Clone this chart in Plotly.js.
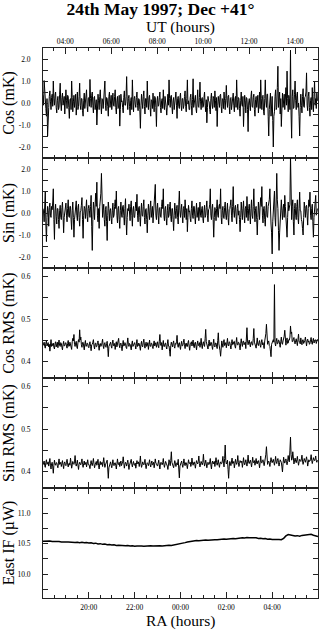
<!DOCTYPE html>
<html><head><meta charset="utf-8">
<script src="https://cdn.plot.ly/plotly-3.0.1.min.js"></script>
<style>html,body{margin:0;padding:0;background:#fff;} #chart{width:321px;height:631px;}</style>
</head><body><div id="chart"></div>
<script>
// ---------------- data ----------------
const RA_START = 18.0;          // RA (hours) of first sample
const NOISE_STEP = 0.025;       // hours between samples of the noisy series
const IF_STEP = 0.1;            // hours between samples of the IF power series
const UT_RANGE = [3.03, 15.0];  // UT hours spanned by the observation

const cosMK = [
0.35,-0.1,1.02,0.3,0.1,-0.25,-0.6,0.2,-1.5,-0.4,-0.2,0.3,0.55,0.05,-0.3,0.25,0.4,-0.15,1.0,0.2,-0.1,0.35,0.5,-0.2,-0.45,0.1,0.3,-0.3,-0.2,0.4,0.9,0.0,-0.35,0.25,0.45,-0.1,0.05,0.3,-0.5,0.15,
0.6,0.1,-0.25,0.35,0.3,-0.2,-0.7,0.15,0.2,-0.3,1.0,0.25,-0.4,0.05,0.35,-0.2,0.1,0.4,-0.55,0.0,0.5,-0.3,-0.15,0.3,0.9,-0.1,-0.3,0.2,0.2,-0.35,-0.6,0.1,0.45,-0.25,0.0,0.3,0.6,-0.15,-0.4,0.2,
0.25,-0.15,1.07,0.2,-0.2,0.35,0.5,-0.1,-0.45,0.25,0.3,-0.3,-0.1,0.15,-1.0,-0.2,0.4,0.1,-0.3,0.3,0.6,-0.05,-0.5,0.2,0.15,-0.25,0.35,0.4,1.0,-0.1,-0.35,0.25,0.2,-0.15,-0.6,0.3,0.5,-0.2,0.05,0.35,
-0.3,0.2,0.45,-0.1,-0.15,0.3,0.6,-0.2,-0.5,0.1,0.3,-0.25,-0.2,0.35,-1.05,-0.3,0.4,0.05,0.1,-0.2,-0.45,0.25,0.55,-0.1,-0.1,0.3,1.2,0.05,-0.3,0.2,0.35,-0.15,-0.55,0.1,0.25,-0.3,1.05,0.15,-0.4,0.2,
0.3,-0.05,-0.2,0.25,0.5,-0.1,-0.35,0.2,0.15,-0.3,-1.15,-0.1,0.4,0.05,-0.25,0.3,0.55,-0.15,-0.5,0.2,0.2,-0.2,1.0,0.1,-0.3,0.25,0.35,-0.2,-0.6,0.15,0.1,-0.25,0.45,0.0,-0.4,0.3,0.25,-0.2,-1.07,0.1,
0.3,-0.15,-0.1,0.25,0.5,-0.2,-0.45,0.1,0.2,-0.25,0.6,0.05,-0.3,0.3,0.15,-0.2,-0.55,0.15,0.4,-0.1,1.05,0.2,-0.2,0.3,0.35,-0.15,-0.5,0.1,0.25,-0.3,0.05,0.35,0.5,-0.1,-0.7,0.2,0.3,-0.15,-0.25,0.25,
0.45,-0.1,-0.35,0.2,0.2,-0.25,-0.1,0.3,0.55,-0.15,-0.4,0.2,1.05,-0.05,0.1,-0.3,-0.3,0.25,0.4,-0.1,-0.55,0.15,1.1,-0.2,0.0,0.3,0.35,-0.25,-0.45,0.1,0.6,-0.15,-0.2,0.25,0.95,0.05,-0.3,0.2,0.25,-0.2,
-0.15,0.25,0.5,-0.1,-0.4,0.15,-0.9,-0.2,0.3,0.1,0.05,-0.3,-0.5,0.2,0.45,-0.05,-0.25,0.3,0.2,-0.2,0.55,0.1,-0.35,0.25,-1.07,-0.1,0.3,0.05,-0.2,0.35,0.4,-0.15,-0.45,0.2,0.15,-0.25,0.5,0.1,-0.3,0.2,
0.8,0.1,-0.2,0.3,0.35,-0.15,-0.5,0.2,0.25,-0.3,0.0,0.35,0.45,-0.1,-0.4,0.2,0.3,-0.2,1.05,0.15,-0.3,0.25,0.2,-0.25,-0.6,0.1,0.5,-0.05,-0.15,0.3,-1.07,-0.2,0.35,0.1,-0.45,0.25,0.2,-0.3,-1.3,0.0,
0.2,-0.1,-0.35,0.3,0.55,-0.15,-0.2,0.25,0.4,-0.3,-0.6,0.15,0.3,-0.2,0.1,0.35,-0.45,0.05,0.5,-0.25,1.05,0.2,-0.3,0.3,0.35,-0.4,-0.55,0.2,1.05,0.1,-0.2,0.4,0.4,-0.6,-1.5,-0.3,0.1,0.45,-0.6,0.2,
0.3,-0.8,-2.0,-0.6,-0.4,0.3,0.6,-0.3,-0.2,0.7,1.67,-0.2,0.3,0.5,-0.5,0.2,-1.07,-0.3,0.45,-0.2,0.1,0.4,-0.3,0.3,0.7,-0.1,1.45,0.2,-0.4,0.35,0.2,-0.3,2.4,-0.5,-1.6,0.3,0.6,-0.25,-0.2,0.4,
1.0,0.1,-0.3,0.35,0.5,-0.2,0.0,-0.6,-1.5,-0.2,0.4,-0.1,-0.45,0.3,0.65,-0.15,-0.2,0.25,0.3,0.5,1.37,-0.1,-0.35,0.3,0.5,-0.2,-0.6,0.1,0.25,-0.3,0.7,0.05,-0.4,0.3,1.0,-0.1,0.2,-0.25,0.45,0.1
];

const sinMK = [
0.2,0.05,-0.4,0.3,1.0,-0.5,-1.3,-0.2,0.3,0.1,-0.6,0.25,0.45,-0.1,-0.2,0.3,0.15,0.5,1.1,-0.3,-1.2,0.1,0.4,-0.15,-0.5,0.2,0.2,-0.3,-0.7,0.1,0.35,-0.2,-0.3,0.25,0.5,-0.1,-0.9,-0.2,0.1,0.3,
0.45,-0.1,-0.4,0.2,0.6,-0.15,-0.2,0.3,0.3,-0.3,-0.75,0.1,0.5,-0.2,-1.1,-0.3,0.2,0.15,0.55,-0.1,-0.35,0.25,0.4,-0.2,-0.6,0.05,0.1,0.35,0.7,-0.3,-1.15,-0.1,0.3,0.2,-0.25,0.1,0.6,-0.15,-0.4,0.2,
0.35,0.1,-0.2,0.3,0.8,-0.6,-1.7,-0.3,0.5,0.2,-0.3,0.4,0.9,0.3,1.4,-0.1,-0.4,0.2,-0.7,0.3,0.6,0.9,1.8,0.4,-0.2,0.1,0.4,-0.3,-0.6,0.15,0.3,-0.4,-1.25,-0.1,0.5,0.2,-0.35,0.1,0.2,-0.25,
-0.5,0.1,0.45,-0.2,-0.1,0.3,0.6,0.2,1.0,-0.1,-0.45,0.2,0.3,-0.3,-0.7,0.1,0.5,-0.05,-0.2,0.3,0.35,-0.1,-0.55,0.2,0.65,-0.3,-1.0,-0.2,0.2,0.1,0.4,-0.15,-0.35,0.3,0.55,-0.1,-0.6,0.15,0.3,-0.2,
-0.2,0.2,0.5,0.1,0.85,-0.1,-0.4,0.25,0.3,-0.2,-0.6,0.1,0.45,-0.1,-0.15,0.3,0.6,-0.2,-0.5,0.15,0.2,-0.3,-0.9,-0.1,0.4,0.05,-0.3,0.25,0.55,-0.2,0.1,0.3,-0.45,0.0,0.35,0.6,1.3,-0.1,-0.3,0.2,
0.45,-0.1,-0.5,0.2,0.25,-0.15,-0.2,0.3,0.6,0.2,1.1,-0.1,-0.35,0.2,0.3,-0.25,-0.55,0.1,0.4,-0.2,-0.1,0.3,0.5,-0.15,-0.4,0.2,0.2,-0.3,-0.8,-0.1,0.45,0.1,-0.25,0.2,0.35,-0.2,-0.5,0.4,1.0,0.1,
-0.2,0.15,0.4,-0.1,-0.45,0.2,0.3,-0.2,0.6,0.1,-0.3,0.2,-0.85,-0.2,0.35,0.05,0.1,-0.25,-0.4,0.2,0.55,-0.1,-0.25,0.3,0.3,-0.15,-0.5,0.1,0.45,-0.2,0.0,0.25,-0.35,0.1,0.5,-0.1,-0.2,0.2,0.3,-0.25,
-0.45,0.1,0.35,-0.2,-0.1,0.25,0.55,-0.1,-0.4,0.15,0.2,0.4,1.1,-0.1,-0.3,0.2,0.4,-0.3,-1.1,-0.2,0.25,0.1,-0.35,0.2,0.6,-0.1,-0.2,0.3,0.4,0.2,1.1,-0.2,-0.5,0.1,0.3,-0.2,-0.25,0.25,0.5,-0.1,
-0.3,0.1,0.45,-0.2,-0.55,0.15,0.2,0.35,0.6,-0.1,-0.4,0.3,1.2,0.1,-0.2,0.25,0.35,-0.15,-0.5,0.2,0.4,-0.1,0.1,-0.3,-0.85,-0.2,0.5,0.1,-0.3,0.2,0.55,-0.1,-0.45,0.2,0.3,-0.2,0.75,0.1,-0.35,0.2,
0.4,-0.1,-0.5,0.2,0.6,-0.1,-0.25,0.3,1.1,0.1,-0.4,0.2,0.3,-0.3,-1.0,-0.2,0.5,0.1,-0.3,0.35,0.7,0.3,1.2,-0.1,-0.45,0.2,0.3,-0.3,-0.6,0.1,0.5,-0.15,-0.2,0.3,0.4,0.6,1.1,-0.2,-0.5,-0.9,
-1.86,-0.4,0.4,0.7,1.0,-0.2,-0.6,0.5,1.8,0.6,0.2,-0.8,-1.7,-0.9,-0.5,0.3,0.6,0.1,-0.3,0.2,0.4,-0.2,0.8,0.3,-0.4,-0.6,-1.1,-0.2,0.5,0.1,0.2,0.4,2.6,-0.1,-0.3,0.3,0.6,-0.4,-1.0,0.2,
0.45,-0.1,-0.3,0.3,0.6,-0.2,-0.5,0.2,0.95,0.1,0.1,-0.3,-0.4,-0.7,-1.0,-0.2,0.5,0.2,-0.2,0.3,0.35,-0.1,-0.55,0.2,0.6,0.3,0.95,-0.1,-0.3,0.2,0.4,-0.4,-1.1,-0.2,0.2,0.4,0.8,-0.1,0.1,0.2
];

const cosRMS = [
0.438,0.443,0.446,0.436,0.432,0.444,0.449,0.437,0.44,0.445,0.435,0.441,0.425,0.447,0.452,0.436,0.437,0.442,0.444,0.434,0.43,0.443,0.447,0.435,0.439,0.446,0.433,0.44,0.451,0.438,0.436,0.445,0.443,0.434,0.428,0.441,0.448,0.437,0.438,0.444,
0.445,0.437,0.432,0.443,0.45,0.436,0.437,0.446,0.442,0.434,0.429,0.447,0.455,0.449,0.464,0.441,0.436,0.444,0.448,0.435,0.431,0.445,0.452,0.446,0.475,0.451,0.458,0.44,0.434,0.445,0.446,0.437,0.428,0.442,0.45,0.436,0.437,0.444,0.443,0.435,
0.433,0.442,0.447,0.436,0.426,0.44,0.441,0.446,0.452,0.437,0.43,0.443,0.444,0.435,0.436,0.445,0.449,0.438,0.427,0.441,0.443,0.436,0.438,0.445,0.453,0.437,0.431,0.442,0.445,0.436,0.434,0.443,0.448,0.432,0.412,0.436,0.44,0.444,0.446,0.437,
0.432,0.444,0.451,0.438,0.437,0.443,0.429,0.441,0.447,0.435,0.44,0.446,0.455,0.439,0.433,0.442,0.444,0.436,0.426,0.44,0.45,0.437,0.438,0.445,0.443,0.434,0.431,0.444,0.456,0.441,0.436,0.443,0.441,0.435,0.428,0.442,0.449,0.436,0.439,0.444,
0.445,0.438,0.43,0.442,0.452,0.436,0.437,0.444,0.442,0.435,0.427,0.441,0.448,0.437,0.435,0.446,0.453,0.439,0.432,0.443,0.446,0.436,0.438,0.445,0.429,0.44,0.451,0.437,0.436,0.444,0.443,0.435,0.431,0.442,0.449,0.437,0.44,0.445,0.434,0.441,
0.447,0.437,0.433,0.448,0.464,0.442,0.438,0.445,0.428,0.44,0.45,0.436,0.436,0.443,0.444,0.435,0.43,0.442,0.452,0.437,0.437,0.425,0.413,0.438,0.446,0.44,0.435,0.444,0.449,0.436,0.432,0.443,0.441,0.447,0.462,0.44,0.434,0.443,0.445,0.436,
0.429,0.441,0.448,0.437,0.438,0.445,0.453,0.44,0.431,0.442,0.444,0.436,0.436,0.445,0.45,0.437,0.427,0.44,0.442,0.447,0.437,0.443,0.451,0.436,0.433,0.444,0.446,0.437,0.428,0.441,0.449,0.438,0.439,0.445,0.434,0.442,0.455,0.439,0.431,0.443,
0.447,0.439,0.436,0.455,0.476,0.447,0.442,0.436,0.43,0.443,0.451,0.437,0.438,0.446,0.445,0.436,0.429,0.442,0.453,0.438,0.435,0.444,0.444,0.437,0.431,0.45,0.468,0.442,0.437,0.426,0.413,0.437,0.449,0.442,0.434,0.446,0.452,0.438,0.44,0.445,
0.433,0.444,0.455,0.439,0.437,0.447,0.446,0.438,0.43,0.443,0.452,0.44,0.441,0.447,0.448,0.437,0.432,0.445,0.457,0.441,0.439,0.446,0.445,0.438,0.428,0.442,0.454,0.443,0.436,0.447,0.449,0.44,0.442,0.446,0.431,0.452,0.48,0.449,0.44,0.447,
0.451,0.441,0.435,0.446,0.447,0.44,0.439,0.455,0.478,0.446,0.443,0.437,0.432,0.447,0.456,0.441,0.438,0.445,0.45,0.439,0.434,0.446,0.452,0.44,0.445,0.438,0.431,0.449,0.458,0.466,0.488,0.45,0.441,0.446,0.449,0.438,0.436,0.425,0.412,0.441,
0.445,0.449,0.452,0.446,0.581,0.444,0.437,0.448,0.455,0.442,0.443,0.451,0.45,0.441,0.434,0.447,0.458,0.444,0.441,0.449,0.453,0.46,0.474,0.446,0.439,0.45,0.456,0.443,0.444,0.452,0.451,0.458,0.484,0.466,0.47,0.447,0.448,0.453,0.457,0.445,
0.442,0.449,0.454,0.445,0.438,0.452,0.465,0.447,0.447,0.442,0.456,0.446,0.44,0.451,0.452,0.443,0.445,0.45,0.458,0.444,0.437,0.449,0.453,0.446,0.449,0.441,0.443,0.452,0.457,0.445,0.441,0.45,0.455,0.444,0.446,0.452,0.451,0.443,0.448,0.453
];

const sinRMS = [
0.415,0.42,0.424,0.413,0.409,0.421,0.427,0.416,0.418,0.422,0.412,0.419,0.43,0.414,0.405,0.418,0.421,0.41,0.395,0.414,0.426,0.417,0.414,0.42,0.42,0.413,0.408,0.419,0.429,0.416,0.417,0.421,0.411,0.418,0.425,0.414,0.406,0.419,0.422,0.415,
0.413,0.421,0.428,0.417,0.41,0.418,0.419,0.414,0.431,0.42,0.407,0.415,0.423,0.418,0.416,0.422,0.437,0.419,0.412,0.418,0.426,0.414,0.404,0.416,0.421,0.417,0.415,0.422,0.429,0.416,0.409,0.418,0.424,0.415,0.418,0.421,0.41,0.419,0.427,0.416,
0.416,0.412,0.406,0.418,0.425,0.416,0.413,0.421,0.43,0.417,0.408,0.415,0.42,0.423,0.414,0.419,0.428,0.413,0.405,0.417,0.423,0.415,0.417,0.421,0.411,0.418,0.432,0.419,0.409,0.415,0.419,0.422,0.426,0.405,0.383,0.408,0.415,0.42,0.422,0.414,
0.408,0.417,0.427,0.415,0.413,0.419,0.42,0.414,0.405,0.418,0.429,0.416,0.416,0.421,0.411,0.419,0.424,0.413,0.418,0.422,0.434,0.417,0.407,0.416,0.421,0.418,0.412,0.42,0.426,0.415,0.404,0.414,0.419,0.422,0.428,0.416,0.41,0.418,0.423,0.415,
0.414,0.419,0.407,0.416,0.425,0.418,0.417,0.422,0.411,0.42,0.436,0.417,0.409,0.415,0.422,0.418,0.415,0.42,0.428,0.414,0.406,0.416,0.42,0.418,0.413,0.419,0.427,0.416,0.41,0.418,0.424,0.415,0.416,0.421,0.408,0.417,0.429,0.419,0.418,0.414,
0.412,0.419,0.426,0.415,0.405,0.417,0.421,0.418,0.415,0.42,0.43,0.416,0.409,0.417,0.423,0.419,0.417,0.412,0.404,0.416,0.427,0.42,0.413,0.425,0.446,0.421,0.418,0.414,0.408,0.417,0.425,0.419,0.411,0.418,0.42,0.415,0.428,0.405,0.384,0.412,
0.416,0.421,0.424,0.415,0.409,0.418,0.429,0.417,0.413,0.42,0.42,0.414,0.406,0.417,0.427,0.419,0.418,0.421,0.411,0.416,0.431,0.419,0.414,0.42,0.422,0.416,0.407,0.418,0.425,0.42,0.417,0.423,0.436,0.418,0.41,0.417,0.423,0.419,0.415,0.421,
0.44,0.421,0.412,0.419,0.426,0.417,0.408,0.418,0.421,0.416,0.416,0.422,0.43,0.415,0.405,0.419,0.424,0.417,0.419,0.423,0.411,0.418,0.432,0.42,0.414,0.421,0.427,0.416,0.409,0.419,0.422,0.417,0.418,0.424,0.435,0.419,0.41,0.43,0.462,0.425,
0.417,0.42,0.426,0.404,0.383,0.41,0.423,0.419,0.413,0.421,0.431,0.418,0.419,0.423,0.408,0.417,0.428,0.421,0.416,0.422,0.437,0.42,0.411,0.418,0.425,0.421,0.42,0.424,0.409,0.418,0.432,0.421,0.415,0.42,0.427,0.419,0.412,0.422,0.438,0.42,
0.418,0.423,0.426,0.419,0.41,0.421,0.433,0.42,0.421,0.425,0.414,0.422,0.43,0.419,0.417,0.424,0.425,0.418,0.408,0.42,0.436,0.421,0.419,0.425,0.427,0.42,0.413,0.422,0.429,0.44,0.458,0.428,0.416,0.422,0.424,0.419,0.411,0.421,0.432,0.423,
0.42,0.425,0.428,0.421,0.414,0.423,0.435,0.422,0.418,0.426,0.43,0.421,0.412,0.42,0.427,0.424,0.421,0.41,0.398,0.418,0.433,0.424,0.419,0.425,0.429,0.421,0.415,0.423,0.437,0.426,0.422,0.45,0.481,0.44,0.426,0.43,0.446,0.425,0.417,0.424,
0.431,0.424,0.42,0.427,0.435,0.423,0.414,0.422,0.428,0.425,0.423,0.429,0.438,0.424,0.416,0.423,0.43,0.426,0.421,0.427,0.434,0.425,0.412,0.42,0.427,0.423,0.424,0.428,0.439,0.426,0.418,0.424,0.432,0.427,0.425,0.429,0.436,0.424,0.421,0.426
];

const eastIF = [
10.542,10.546,10.538,10.544,10.536,10.54,10.532,10.537,10.529,10.534,10.527,10.531,10.524,10.529,10.521,10.526,10.518,10.523,10.515,10.52,
10.512,10.517,10.506,10.51,10.498,10.502,10.49,10.494,10.483,10.487,10.478,10.482,10.473,10.477,10.47,10.474,10.466,10.471,10.463,10.468,
10.458,10.463,10.456,10.461,10.459,10.465,10.46,10.466,10.462,10.468,10.463,10.469,10.464,10.47,10.468,10.474,10.472,10.479,10.48,10.489,
10.5,10.511,10.519,10.528,10.535,10.543,10.547,10.552,10.55,10.557,10.554,10.56,10.558,10.564,10.562,10.568,10.566,10.572,10.57,10.577,
10.575,10.582,10.58,10.587,10.584,10.592,10.589,10.598,10.594,10.604,10.598,10.602,10.594,10.598,10.588,10.592,10.582,10.586,10.576,10.58,
10.57,10.574,10.566,10.572,10.568,10.59,10.63,10.652,10.645,10.636,10.628,10.634,10.626,10.638,10.645,10.652,10.648,10.656,10.64,10.628,10.62
];

const raTickVals = [20, 22, 24, 26, 28];
const raTickText = ['20:00', '22:00', '00:00', '02:00', '04:00'];
const utTickVals = [4, 6, 8, 10, 12, 14];
const utTickText = ['04:00', '06:00', '08:00', '10:00', '12:00', '14:00'];
const mkTickVals = [-2, -1, 0, 1, 2];
const mkTickText = ['-2.0', '-1.0', '0.0', '1.0', '2.0'];
const rmsTickVals = [0.4, 0.5, 0.6];
const rmsTickText = ['0.4', '0.5', '0.6'];
const ifTickVals = [10.0, 10.5, 11.0];
const ifTickText = ['10.0', '10.5', '11.0'];

const panelTitles = ['Cos (mK)', 'Sin (mK)', 'Cos RMS (mK)', 'Sin RMS (mK)', 'East IF (\u00b5W)'];
const chartTitle = '24th May 1997; Dec +41\u00b0';
const raTitle = 'RA (hours)';
const utTitle = 'UT (hours)';

// ---------------- build ----------------
function sampleTimes(n, step) { const t = []; for (let i = 0; i < n; i++) t.push(RA_START + i * step); return t; }

const FONT = 'Liberation Serif, Times New Roman, serif';
const FRAME = '#222';
const lineStyle = { color: '#000', width: 1 };

const traces = [
  { x: sampleTimes(cosMK.length, NOISE_STEP), y: cosMK, xaxis: 'x2', yaxis: 'y', type: 'scatter', mode: 'lines', line: lineStyle },
  { x: sampleTimes(sinMK.length, NOISE_STEP), y: sinMK, xaxis: 'x3', yaxis: 'y2', type: 'scatter', mode: 'lines', line: lineStyle },
  { x: sampleTimes(cosRMS.length, NOISE_STEP), y: cosRMS, xaxis: 'x4', yaxis: 'y3', type: 'scatter', mode: 'lines', line: lineStyle },
  { x: sampleTimes(sinRMS.length, NOISE_STEP), y: sinRMS, xaxis: 'x5', yaxis: 'y4', type: 'scatter', mode: 'lines', line: lineStyle },
  { x: sampleTimes(eastIF.length, IF_STEP), y: eastIF, xaxis: 'x', yaxis: 'y5', type: 'scatter', mode: 'lines', line: { color: '#000', width: 1.5 } },
  { x: UT_RANGE, y: [null, null], xaxis: 'x6', yaxis: 'y', type: 'scatter', mode: 'lines', showlegend: false, hoverinfo: 'skip' }
];

const RA_RANGE = [18.0, 30.0];
const tickFont = { family: FONT, size: 7.5, color: '#000' };
const titleFont = { family: FONT, size: 16, color: '#000' };
const xTitleFont = { family: FONT, size: 15.5, color: '#000' };

function xAxisBase(anchor) {
  return {
    range: RA_RANGE, anchor: anchor, showgrid: false, zeroline: false,
    showline: true, linecolor: FRAME, linewidth: 1, mirror: 'ticks',
    ticks: 'inside', ticklen: 6, tickcolor: FRAME, tickwidth: 1,
    tickmode: 'array', tickvals: raTickVals, ticktext: raTickText,
    minor: { tickmode: 'linear', tick0: 18, dtick: 0.5, ticks: 'inside', ticklen: 3, tickcolor: FRAME },
    showticklabels: false, tickfont: tickFont
  };
}
function yAxisBase(domain, range, vals, text, minorDt, title) {
  return {
    domain: domain, range: range, anchor: 'x', showgrid: false, zeroline: false,
    showline: true, linecolor: FRAME, linewidth: 1, mirror: 'ticks',
    ticks: 'inside', ticklen: 5, tickcolor: FRAME, tickwidth: 1,
    tickmode: 'array', tickvals: vals, ticktext: text,
    minor: { tickmode: 'linear', tick0: vals[0], dtick: minorDt, ticks: 'inside', ticklen: 5, tickcolor: FRAME },
    tickfont: tickFont, ticklabelstandoff: 10,
    title: { text: title, font: titleFont, standoff: 4 }
  };
}

const layout = {
  width: 321, height: 631,
  margin: { l: 43, r: 3, t: 48, b: 33, pad: 0 },
  paper_bgcolor: '#fff', plot_bgcolor: '#fff',
  showlegend: false,
  font: { family: FONT, color: '#000' },
  title: { text: '<b>' + chartTitle + '</b>', font: { family: FONT, size: 17.5, color: '#000' }, x: 0.5, xanchor: 'center', y: 0.9865, yanchor: 'middle' },
  xaxis: Object.assign(xAxisBase('y5'), { showticklabels: true, ticklabelstandoff: 2 }),
  xaxis2: Object.assign(xAxisBase('y'), { mirror: false, matches: 'x' }),
  xaxis3: Object.assign(xAxisBase('y2'), { matches: 'x' }),
  xaxis4: Object.assign(xAxisBase('y3'), { matches: 'x' }),
  xaxis5: Object.assign(xAxisBase('y4'), { matches: 'x' }),
  xaxis6: {
    range: UT_RANGE, overlaying: 'x2', anchor: 'y', side: 'top', showgrid: false, zeroline: false,
    showline: true, linecolor: FRAME, linewidth: 1,
    ticks: 'inside', ticklen: 6, tickcolor: FRAME, tickwidth: 1,
    tickmode: 'array', tickvals: utTickVals, ticktext: utTickText,
    minor: { tickmode: 'linear', tick0: 3, dtick: 0.5, ticks: 'inside', ticklen: 3, tickcolor: FRAME },
    tickfont: tickFont, ticklabelstandoff: 0
  },
  yaxis: Object.assign(yAxisBase([0.8, 1.0], [-2.5, 2.5], mkTickVals, mkTickText, 0.5, panelTitles[0]), { anchor: 'x2' }),
  yaxis2: Object.assign(yAxisBase([0.6, 0.8], [-2.5, 2.5], mkTickVals, mkTickText, 0.5, panelTitles[1]), { anchor: 'x3' }),
  yaxis3: Object.assign(yAxisBase([0.4, 0.6], [0.362, 0.62], rmsTickVals, rmsTickText, 0.05, panelTitles[2]), { anchor: 'x4' }),
  yaxis4: Object.assign(yAxisBase([0.2, 0.4], [0.36, 0.621], rmsTickVals, rmsTickText, 0.05, panelTitles[3]), { anchor: 'x5' }),
  yaxis5: Object.assign(yAxisBase([0.0, 0.2], [9.605, 11.42], ifTickVals, ifTickText, 0.25, panelTitles[4]), { anchor: 'x' }),
  annotations: [
    { text: utTitle, xref: 'paper', yref: 'paper', x: 0.5, y: 1.0385, xanchor: 'center', yanchor: 'middle', showarrow: false, font: xTitleFont },
    { text: raTitle, xref: 'paper', yref: 'paper', x: 0.5, y: -0.0425, xanchor: 'center', yanchor: 'middle', showarrow: false, font: xTitleFont }
  ]
};

Plotly.newPlot('chart', traces, layout, { staticPlot: true, displayModeBar: false });
</script>
</body></html>
